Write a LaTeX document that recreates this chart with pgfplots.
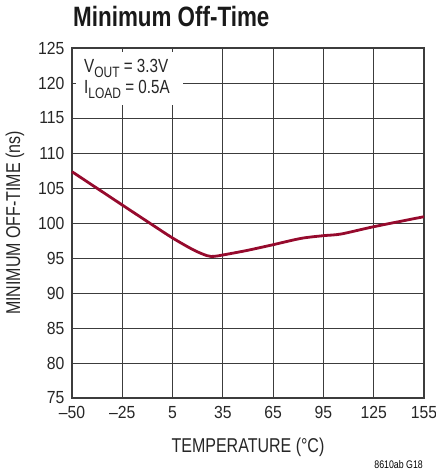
\documentclass[border=0pt]{standalone}
\usepackage{fontspec}
\setmainfont{Liberation Sans}[FakeStretch=0.8]
\newfontfamily\tickfont{Liberation Sans}[FakeStretch=0.9]
\usepackage{pgfplots}
\pgfplotsset{compat=1.18}
\definecolor{curve}{RGB}{150,10,45}
\definecolor{gridc}{RGB}{60,60,60}
\begin{document}
\begin{tikzpicture}
\path[use as bounding box] (-72pt,-76pt) rectangle (364pt,398pt);
\begin{axis}[
  at={(0pt,0pt)}, anchor=south west,
  scale only axis, width=352pt, height=350pt,
  xmin=-55, xmax=155, ymin=75, ymax=125,
  xtick={-55,-25,5,35,65,95,125,155},
  xticklabels={\textendash50,\textendash25,5,35,65,95,125,155},
  ytick={75,80,...,125},
  grid=major,
  major grid style={draw=gridc, line width=0.9pt},
  axis line style={draw=gridc, line width=1.6pt},
  major tick length=0pt,
  /pgf/number format/assume math mode=true,
  ticklabel style={font=\tickfont\fontsize{17.5}{20}\selectfont, text=black!85},
  xticklabel style={yshift=-5pt},
  yticklabel style={xshift=-4pt},
  xlabel={TEMPERATURE (°C)},
  ylabel={MINIMUM OFF-TIME (ns)},
  label style={font=\fontsize{20}{24}\selectfont, text=black!85},
  xlabel style={at={(axis description cs:0.5,0)}, anchor=base, yshift=-54pt},
  ylabel style={at={(axis description cs:-0.1477,0.5)}, anchor=base},
  clip=false,
]
\addplot[curve, line width=2.8pt, smooth, tension=0.5] coordinates {
(-55,107.33) (-40,104.95) (-25,102.57) (-10,100.2) (5,97.86) (17.6,96.14)
(25.6,95.33) (29.6,95.23) (35,95.43) (45.6,95.9) (51.6,96.19) (65,96.9)
(81.6,97.8) (95,98.19) (105.6,98.43) (125,99.47) (155,100.9)
};
\node[fill=white, anchor=north west, inner sep=0pt, minimum width=107pt, minimum height=53pt] at (axis cs:-55,125) [yshift=-4pt, xshift=4pt] {};
\node[anchor=base west, inner sep=0pt, font=\fontsize{19}{22}\selectfont, text=black!85, align=left] at (axis cs:-55,125) [xshift=12pt, yshift=-25pt] {V\raisebox{-0.22em}{\fontsize{15}{15}\selectfont OUT} = 3.3V};
\node[anchor=base west, inner sep=0pt, font=\fontsize{19}{22}\selectfont, text=black!85, align=left] at (axis cs:-55,125) [xshift=12pt, yshift=-46pt] {I\raisebox{-0.22em}{\fontsize{15}{15}\selectfont LOAD} = 0.5A};
\end{axis}
\node[anchor=base west, inner sep=0pt, font=\bfseries\fontsize{28}{32}\selectfont, text=black!90] at (1pt,371pt) {Minimum Off-Time};
\node[anchor=base east, inner sep=0pt, font=\fontsize{11}{13}\selectfont] at (351pt,-70pt) {8610ab G18};
\end{tikzpicture}
\end{document}
